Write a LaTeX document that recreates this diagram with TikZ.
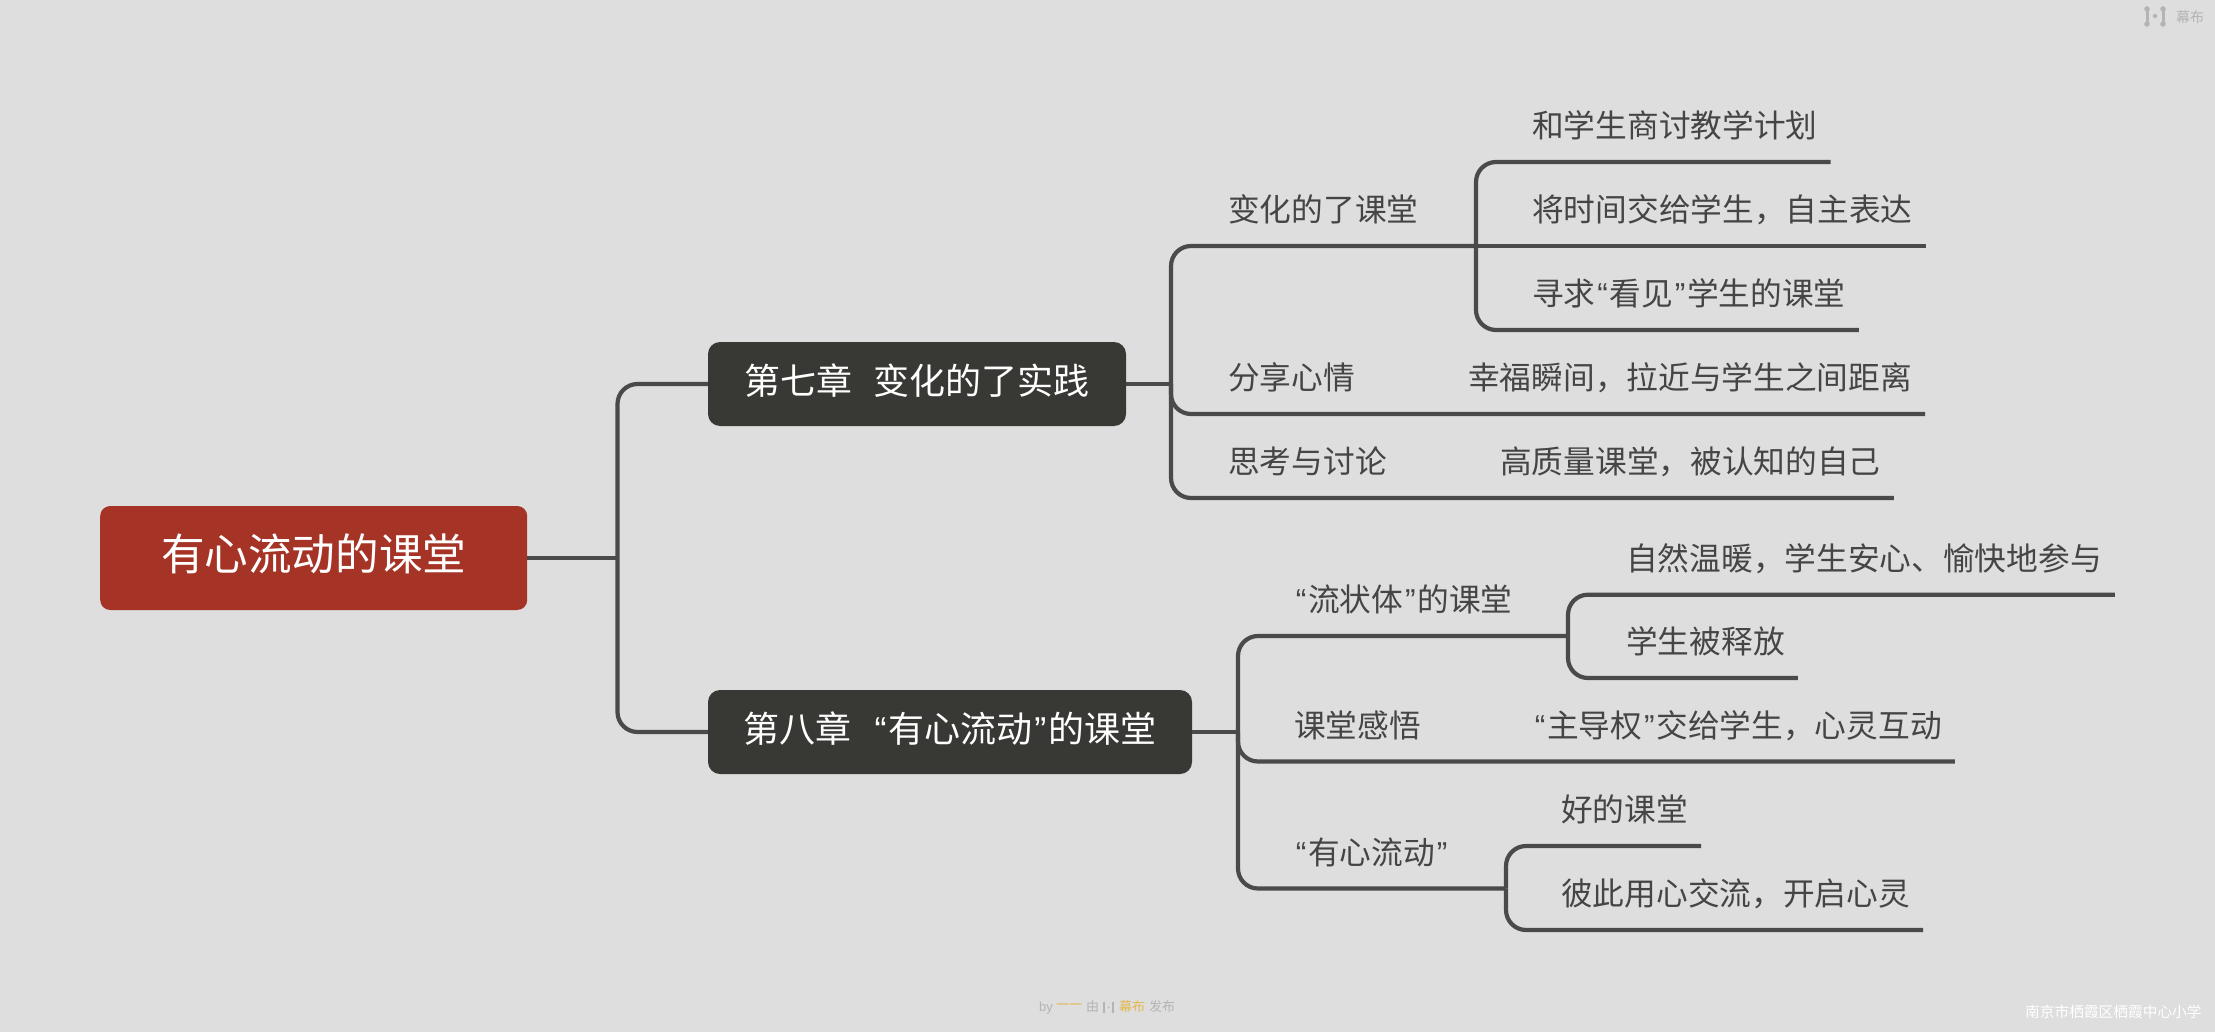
\documentclass[tikz,border=0pt]{standalone}
\usepackage{fontspec}
\setmainfont{Noto Sans CJK SC}
\newfontfamily\latq{Liberation Sans}
\newcommand{\qopen}{{\kern0.055em\latq “\kern0.055em}}
\newcommand{\qclose}{{\kern0.055em\latq ”\kern0.055em}}
\definecolor{bgc}{HTML}{DEDEDE}
\definecolor{rootc}{HTML}{A63426}
\definecolor{boxc}{HTML}{383834}
\definecolor{linec}{HTML}{4A4A4A}
\definecolor{textc}{HTML}{454545}
\definecolor{markc}{HTML}{B4B4B4}
\definecolor{yelc}{HTML}{E2B94E}
\tikzset{
  x=1pt,y=-1pt,
  rootbox/.style={fill=rootc,text=white,rounded corners=10pt,minimum width=427pt,minimum height=104pt,inner sep=0pt,font=\fontsize{43.6}{50}\selectfont},
  chapbox/.style={fill=boxc,text=white,rounded corners=12pt,minimum height=84pt,inner sep=0pt,font=\fontsize{36}{42}\selectfont},
  leaf/.style={anchor=south west,inner xsep=13pt,inner ysep=0pt,text=textc,text height=30pt,text depth=24pt,font=\fontsize{31.7}{36}\selectfont},
  conn/.style={draw=linec,line width=4.2pt,rounded corners=20pt},
  small/.style={inner sep=0pt,anchor=west,font=\fontsize{13}{15}\selectfont},
}
\begin{document}
\begin{tikzpicture}
\useasboundingbox[fill=bgc] (0,0) rectangle (2215,1032);
% main nodes
\node[rootbox] (root) at (313.7,558) {\raisebox{11pt}{有心流动的课堂}};
\node[chapbox,minimum width=418pt] (ch7) at (917,384) {\raisebox{9pt}{第七章\hspace{21pt}变化的了实践}};
\node[chapbox,minimum width=484pt] (ch8) at (950,732) {\raisebox{9pt}{第八章\hspace{21pt}\qopen 有心流动\qclose 的课堂}};
% trunk points
\coordinate (trunk) at (617.5,558);
\coordinate (t7) at (1171,384);
\coordinate (t8) at (1238,732);
\coordinate (s71) at (1476,246);
\coordinate (s81) at (1568,636);
\coordinate (s83) at (1506,888.5);
% level 2 and 3 nodes (the bottom edge of each node is its branch line)
\node[leaf] (a1) at (1215,246) {变化的了课堂};
\node[leaf] (a2) at (1215,414) {分享心情};
\node[leaf] (a3) at (1215,498) {思考与讨论};
\node[leaf] (b1) at (1281,636) {\qopen 流状体\qclose 的课堂};
\node[leaf] (b2) at (1281,761.5) {课堂感悟};
\node[leaf] (b3) at (1281,888.5) {\qopen 有心流动\qclose};
\node[leaf] (a11) at (1519,162) {和学生商讨教学计划};
\node[leaf] (a12) at (1519,246) {将时间交给学生，自主表达};
\node[leaf] (a13) at (1519,330) {寻求\qopen 看见\qclose 学生的课堂};
\node[leaf] (a21) at (1455,414) {幸福瞬间，拉近与学生之间距离};
\node[leaf] (a31) at (1487,498) {高质量课堂，被认知的自己};
\node[leaf] (b11) at (1613,594.7) {自然温暖，学生安心、愉快地参与};
\node[leaf] (b12) at (1613,678) {学生被释放};
\node[leaf] (b21) at (1520,761.5) {\qopen 主导权\qclose 交给学生，心灵互动};
\node[leaf] (b31) at (1548,846) {好的课堂};
\node[leaf] (b32) at (1548,930) {彼此用心交流，开启心灵};
% connectors
\draw[conn] (root.east) -- (trunk);
\draw[conn] (ch7.west) -| (trunk) |- (ch8.west);
\draw[conn] (ch7.east) -- (t7);
\draw[conn] (t7) |- (a1.south east) -- (s71);
\draw[conn] (t7) |- (a2.south east) -- (a21.south east);
\draw[conn] (t7) |- (a3.south east) -- (a31.south east);
\draw[conn] (s71) |- (a11.south east);
\draw[conn] (s71) -- (a12.south east);
\draw[conn] (s71) |- (a13.south east);
\draw[conn] (ch8.east) -- (t8);
\draw[conn] (t8) |- (b1.south east) -- (s81);
\draw[conn] (t8) |- (b2.south east) -- (b21.south east);
\draw[conn] (t8) |- (b3.south east) -- (s83);
\draw[conn] (s81) |- (b11.south east);
\draw[conn] (s81) |- (b12.south east);
\draw[conn] (s83) |- (b31.south east);
\draw[conn] (s83) |- (b32.south east);
% top-right mark
\fill[markc] (2147,9) circle (2.8) (2147,24) circle (2.8) (2163,9) circle (2.8) (2163,24) circle (2.8) (2155,16) circle (2.2);
\draw[markc,line width=3pt] (2147,9) -- (2147,24) (2163,9) -- (2163,24);
\node[small,text=markc,font=\fontsize{14}{16}\selectfont] (mk) at (2176,17) {幕布};
% bottom credit
\node[small,text=markc] (by) at (1039,1008) {\latq by};
\node[small,text=yelc] (au) at (1056,1007) {一一};
\node[small,text=markc] (yo) at (1086,1007) {由};
\fill[markc] (1104,1003) circle (1.3) (1104,1012) circle (1.3) (1113,1003) circle (1.3) (1113,1012) circle (1.3) (1108.5,1007.5) circle (1);
\draw[markc,line width=1.2pt] (1104,1003) -- (1104,1012) (1113,1003) -- (1113,1012);
\node[small,text=yelc] (mb) at (1119,1007) {幕布};
\node[small,text=markc] (fb) at (1149,1007) {发布};
% watermark
\node[small,text=white,font=\fontsize{14.7}{16}\selectfont] (wm) at (2025,1012) {南京市栖霞区栖霞中心小学};
\end{tikzpicture}
\end{document}
